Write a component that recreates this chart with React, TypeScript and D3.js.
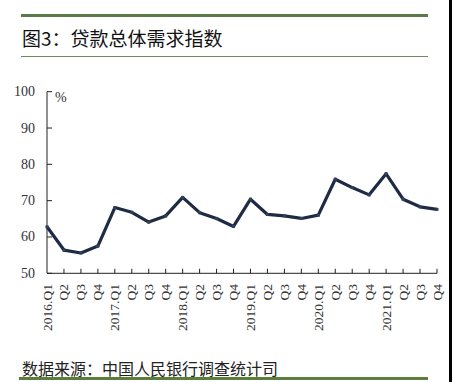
import React from "react";
import * as d3 from "d3";

const years = ["2016", "2017", "2018", "2019", "2020", "2021"];
const quarters = ["Q1", "Q2", "Q3", "Q4"];
const values = [
  62.8, 56.4, 55.6, 57.5,
  68.1, 66.8, 64.1, 65.8,
  70.9, 66.7, 65.1, 62.9,
  70.4, 66.2, 65.8, 65.1,
  66.0, 75.9, 73.6, 71.6,
  77.4, 70.4, 68.3, 67.6,
];
const yTicks = [50, 60, 70, 80, 90, 100];
const title = "图3：贷款总体需求指数";
const source = "数据来源：中国人民银行调查统计司";

const categories = years.flatMap((y) => quarters.map((q) => (q === "Q1" ? `${y}.Q1` : q)));

export default function App() {
  const W = 452, H = 382;
  const x = d3.scaleLinear().domain([0, categories.length - 1]).range([47, 437]);
  const y = d3.scaleLinear().domain([50, 100]).range([273.3, 91.7]);
  const line = d3.line<number>().x((_, i) => x(i)).y((d) => y(d));
  const serif = "'Liberation Serif', 'Times New Roman', serif";
  const cjk = "'Noto Sans CJK SC', sans-serif";
  return (
    <svg width={W} height={H} style={{ position: "absolute", left: 0, top: 0, background: "#fff" }}>
      <rect x={0} y={0} width={W} height={H} fill="#fff" />
      <rect x={449} y={0} width={3} height={H} fill="#000" />
      <rect x={21} y={14} width={407} height={3} fill="#5a7a48" />
      <text x={22} y={46} fontFamily={cjk} fontSize={19} fill="#111">{title}</text>
      <rect x={21} y={56} width={407} height={1} fill="#6f8a5e" />
      <line x1={47} x2={47} y1={y(100)} y2={y(50)} stroke="#222" strokeWidth={1} />
      <line x1={47} x2={437} y1={y(50)} y2={y(50)} stroke="#222" strokeWidth={1} />
      {yTicks.map((t) => (
        <g key={t}>
          <line x1={47} x2={52} y1={y(t)} y2={y(t)} stroke="#222" strokeWidth={1} />
          <text x={35} y={y(t)} textAnchor="end" dominantBaseline="central" fontFamily={serif} fontSize={14} fill="#333">{t}</text>
        </g>
      ))}
      <text x={55} y={97} dominantBaseline="central" fontFamily={serif} fontSize={14} fill="#333">%</text>
      {categories.map((c, i) => (
        <g key={i}>
          {i > 0 && <line x1={x(i)} x2={x(i)} y1={y(50)} y2={y(50) - 4.5} stroke="#222" strokeWidth={1} />}
          <text transform={`translate(${x(i)},284) rotate(-90)`} textAnchor="end" dominantBaseline="central" fontFamily={serif} fontSize={13.5} fill="#333">{c}</text>
        </g>
      ))}
      <path d={line(values) || ""} fill="none" stroke="#1f2b45" strokeWidth={3.2} strokeLinejoin="round" />
      {values.map((v, i) => (
        <rect key={i} x={x(i) - 1.5} y={y(v) - 1.5} width={3} height={3} fill="#33405a" />
      ))}
      <text x={22} y={375} fontFamily={cjk} fontSize={16} fill="#222">{source}</text>
      <rect x={19} y={377} width={409} height={3} fill="#5b7f3a" />
    </svg>
  );
}
